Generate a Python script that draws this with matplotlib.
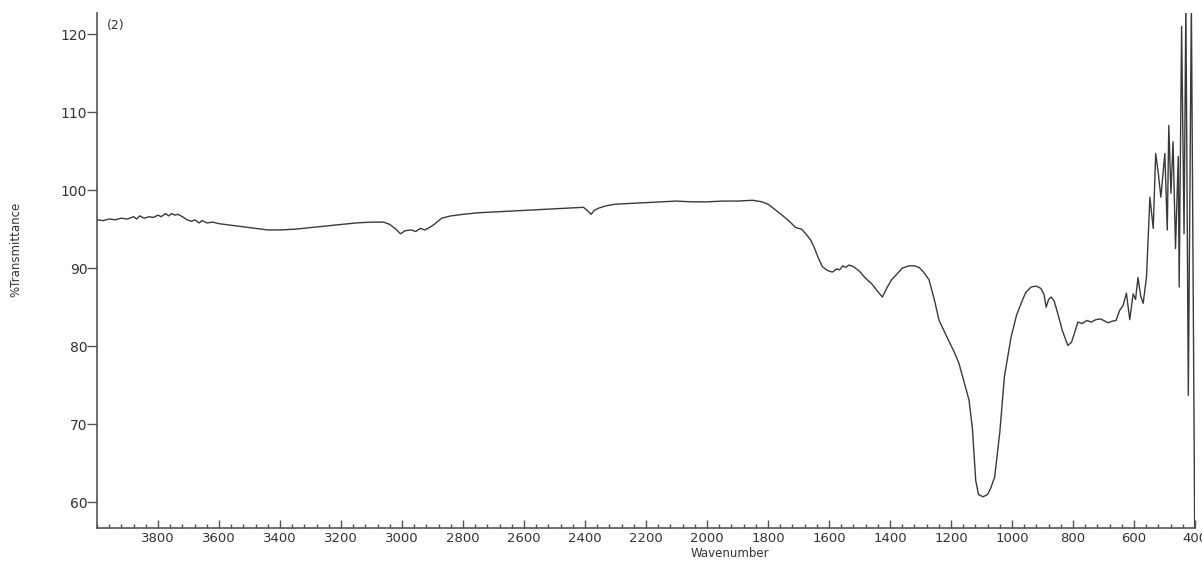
import matplotlib.pyplot as plt
from matplotlib.ticker import MultipleLocator

# FTIR spectrum (2)
wavenumber = [
    4000, 3980, 3960, 3940, 3920, 3900, 3880, 3870, 3860, 3845, 3830, 3815,
    3800, 3790, 3775, 3765, 3755, 3745, 3735, 3720, 3705, 3690, 3680, 3665,
    3655, 3640, 3620, 3600, 3560, 3520, 3480, 3440, 3400, 3350, 3300, 3250,
    3200, 3150, 3100, 3060, 3040, 3020, 3005, 2990, 2970, 2955, 2940, 2925,
    2910, 2895, 2870, 2840, 2800, 2750, 2700, 2650, 2600, 2550, 2500, 2450,
    2405, 2390, 2380, 2370, 2355, 2330, 2300, 2250, 2200, 2150, 2100, 2050,
    2000, 1950, 1900, 1850, 1820, 1800, 1780, 1754, 1730, 1709, 1690, 1676,
    1660, 1649, 1635, 1622, 1605, 1589, 1575, 1565, 1555, 1545, 1535, 1520,
    1500, 1480, 1460, 1440, 1425, 1410, 1395, 1381, 1360, 1338, 1320, 1305,
    1290, 1272, 1255, 1239, 1210, 1190, 1174, 1160, 1141, 1130, 1119, 1110,
    1095, 1080, 1070, 1057, 1040, 1025, 1003, 985, 970, 955, 937, 920,
    905, 895, 888, 880, 872, 862, 850, 835, 817, 805, 795, 784,
    770, 755, 740, 725, 710, 700, 685, 672, 659, 647, 636, 625,
    614, 603, 595, 587, 578, 570, 559, 548, 537, 529, 520, 512,
    499, 491, 486, 479, 472, 464, 455, 452, 444, 436, 430, 422,
    412, 400,
]
transmittance = [
    96.2, 96.1, 96.3, 96.2, 96.4, 96.3, 96.6, 96.3, 96.7, 96.4, 96.6, 96.5,
    96.8, 96.6, 97.0, 96.7, 97.0, 96.8, 96.9, 96.6, 96.2, 96.0, 96.2, 95.8,
    96.1, 95.8, 95.9, 95.7, 95.5, 95.3, 95.1, 94.9, 94.9, 95.0, 95.2, 95.4,
    95.6, 95.8, 95.9, 95.9, 95.6, 95.0, 94.4, 94.8, 94.9, 94.7, 95.1, 94.9,
    95.2, 95.6, 96.4, 96.7, 96.9, 97.1, 97.2, 97.3, 97.4, 97.5, 97.6, 97.7,
    97.8, 97.3, 96.9, 97.4, 97.7, 98.0, 98.2, 98.3, 98.4, 98.5, 98.6, 98.5,
    98.5, 98.6, 98.6, 98.7, 98.5, 98.2, 97.6, 96.8, 96.0, 95.2, 95.0, 94.4,
    93.6, 92.7, 91.3, 90.2, 89.7, 89.5, 89.9, 89.8, 90.3, 90.1, 90.4, 90.2,
    89.6, 88.7, 88.0, 87.0, 86.3, 87.5, 88.5, 89.1, 90.0, 90.3, 90.3, 90.1,
    89.5, 88.5, 86.0, 83.3, 80.9, 79.3, 77.8, 75.8, 73.1, 69.5, 62.8, 61.0,
    60.7, 61.0, 61.8, 63.2, 69.0, 76.1, 81.2, 84.0, 85.5, 86.9, 87.6, 87.7,
    87.4, 86.6, 85.0, 86.0, 86.3, 85.8, 84.2, 82.0, 80.1, 80.5, 81.7, 83.1,
    82.9, 83.3, 83.1, 83.4, 83.5, 83.3, 83.0, 83.2, 83.3, 84.6, 85.2, 86.8,
    83.4, 86.7, 86.0, 88.8, 86.4, 85.5, 88.9, 99.1, 95.1, 104.7, 102.0, 99.1,
    104.7, 94.9, 108.3, 99.6, 106.2, 92.5, 104.3, 87.6, 121.0, 94.4, 124.0, 73.7,
    124.0, 50.0,
]
y_ticks = [60, 70, 80, 90, 100, 110, 120]
x_ticks = [3800, 3600, 3400, 3200, 3000, 2800, 2600, 2400, 2200, 2000,
           1800, 1600, 1400, 1200, 1000, 800, 600, 400]

ink = '#333333'
fig = plt.figure(figsize=(12.02, 5.61), dpi=100)
ax = fig.add_axes([0.0807, 0.0588, 0.9135, 0.918])
ax.plot(wavenumber, transmittance, color='#3a3a3a', lw=1.0)

ax.set_xlim(4000, 400)
ax.set_ylim(56.7, 122.7)
ax.set_xticks(x_ticks)
ax.set_yticks(y_ticks)
ax.xaxis.set_minor_locator(MultipleLocator(40))

for side in ['top', 'right']:
    ax.spines[side].set_visible(False)
for side in ['left', 'bottom']:
    ax.spines[side].set_color('#555555')
    ax.spines[side].set_linewidth(1.2)

ax.tick_params(axis='x', which='major', direction='in', length=6, width=1,
               color='#555555', labelsize=9.5, labelcolor=ink, pad=3)
ax.tick_params(axis='x', which='minor', direction='in', length=3, width=1,
               color='#555555')
ax.tick_params(axis='y', direction='out', length=7, width=1, color='#555555',
               labelsize=10, labelcolor=ink, pad=0)

ax.text(0.009, 0.969, '(2)', transform=ax.transAxes, fontsize=9, color=ink)
fig.text(0.607, 0.002, 'Wavenumber', ha='center', va='bottom', fontsize=8.5,
         color=ink)
fig.text(0.013, 0.555, '%Transmittance', rotation=90, ha='center',
         va='center', fontsize=8.5, color=ink)

fig.savefig('out.png', dpi=100)
